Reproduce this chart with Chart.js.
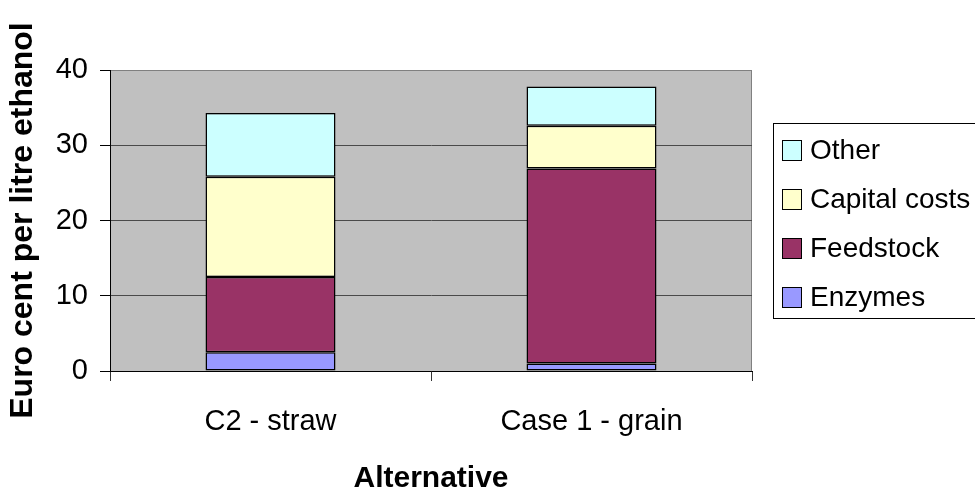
<!DOCTYPE html>
<html>
<head>
<meta charset="utf-8">
<script src="https://cdn.jsdelivr.net/npm/chart.js@4/dist/chart.umd.min.js"></script>
<style>
  body { margin: 0; background: #ffffff; }
  #wrap { width: 975px; height: 495px; position: relative; }
</style>
</head>
<body>
<div id="wrap"><canvas id="grafico"></canvas></div>
<script>
'use strict';

// datos
const categorias = ['C2 - straw', 'Case 1 - grain'];
const dataEnzymes = [2.5, 1.0];
const dataFeedstock = [10.0, 25.9];
const dataCapital = [13.3, 5.7];
const dataOther = [8.5, 5.2];

const yMin = 0;
const yMax = 40;
const yPaso = 10;

const tituloX = 'Alternative';
const tituloY = 'Euro cent per litre ethanol';

const fuente = "'Liberation Sans', Arial, sans-serif";

// fondo gris del area de trazado
const fondoPlot = {
    id: 'fondoPlot',
    beforeDraw(chart) {
        const { ctx, chartArea } = chart;
        ctx.save();
        ctx.fillStyle = '#c0c0c0';
        ctx.fillRect(chartArea.left, chartArea.top, chartArea.width, chartArea.height);
        ctx.strokeStyle = '#808080';
        ctx.lineWidth = 1;
        ctx.strokeRect(chartArea.left + 0.5, chartArea.top + 0.5, chartArea.width - 1, chartArea.height);
        ctx.restore();
    }
};

// leyenda dibujada a mano a la derecha
const leyenda = {
    id: 'leyenda',
    afterDraw(chart) {
        const ctx = chart.ctx;
        const sets = chart.data.datasets.slice().reverse();
        ctx.save();
        ctx.fillStyle = '#ffffff';
        ctx.fillRect(773, 123, 210, 195);
        ctx.strokeStyle = '#000000';
        ctx.lineWidth = 1;
        ctx.strokeRect(773.5, 123.5, 210, 195);
        ctx.font = '28px ' + fuente;
        ctx.textBaseline = 'middle';
        ctx.textAlign = 'left';
        for (let i = 0; i < sets.length; i++) {
            let yc = 150 + i * 49;
            ctx.fillStyle = sets[i].backgroundColor;
            ctx.fillRect(782, yc - 10, 19, 20);
            ctx.strokeRect(782.5, yc - 9.5, 19, 20);
            ctx.fillStyle = '#000000';
            ctx.fillText(sets[i].label, 810, yc + 1);
        }
        ctx.restore();
    }
};

const barraComun = {
    borderColor: '#000000',
    borderWidth: 1.5,
    borderSkipped: false,
    categoryPercentage: 1,
    barPercentage: 0.405
};

new Chart(document.getElementById('grafico'), {
    type: 'bar',
    data: {
        labels: categorias,
        datasets: [
            Object.assign({ label: 'Enzymes', data: dataEnzymes, backgroundColor: '#9999ff' }, barraComun),
            Object.assign({ label: 'Feedstock', data: dataFeedstock, backgroundColor: '#993366' }, barraComun),
            Object.assign({ label: 'Capital costs', data: dataCapital, backgroundColor: '#ffffcc' }, barraComun),
            Object.assign({ label: 'Other', data: dataOther, backgroundColor: '#ccffff' }, barraComun)
        ]
    },
    options: {
        responsive: true,
        maintainAspectRatio: false,
        animation: false,
        layout: { padding: { top: 70, right: 223, left: 0, bottom: 0 } },
        plugins: {
            legend: { display: false },
            tooltip: { enabled: false }
        },
        scales: {
            x: {
                stacked: true,
                afterFit(scale) { scale.height = 124; },
                grid: {
                    offset: true,
                    drawOnChartArea: false,
                    tickLength: 10,
                    tickColor: (c) => c.index === 2 ? '#808080' : '#333333'
                },
                border: { color: '#000000', width: 1 },
                ticks: {
                    color: '#000000',
                    padding: 24,
                    font: { family: fuente, size: 29 }
                },
                title: {
                    display: true,
                    text: tituloX,
                    color: '#000000',
                    font: { family: fuente, size: 30, weight: 'bold', lineHeight: 1 },
                    padding: { top: 0, bottom: 1 }
                }
            },
            y: {
                stacked: true,
                min: yMin,
                max: yMax,
                afterFit(scale) { scale.width = 110; },
                grid: {
                    tickLength: 10,
                    color: (c) => c.tick && c.tick.value === yMax ? '#808080' : '#4a4a4a',
                    tickColor: '#000000'
                },
                border: { color: '#000000', width: 1 },
                ticks: {
                    stepSize: yPaso,
                    color: '#000000',
                    padding: 12,
                    font: { family: fuente, size: 29 }
                },
                title: {
                    display: true,
                    text: tituloY,
                    color: '#000000',
                    font: { family: fuente, size: 32, weight: 'bold', lineHeight: 1 },
                    padding: { top: 7, bottom: 0 }
                }
            }
        }
    },
    plugins: [fondoPlot, leyenda]
});
</script>
</body>
</html>
